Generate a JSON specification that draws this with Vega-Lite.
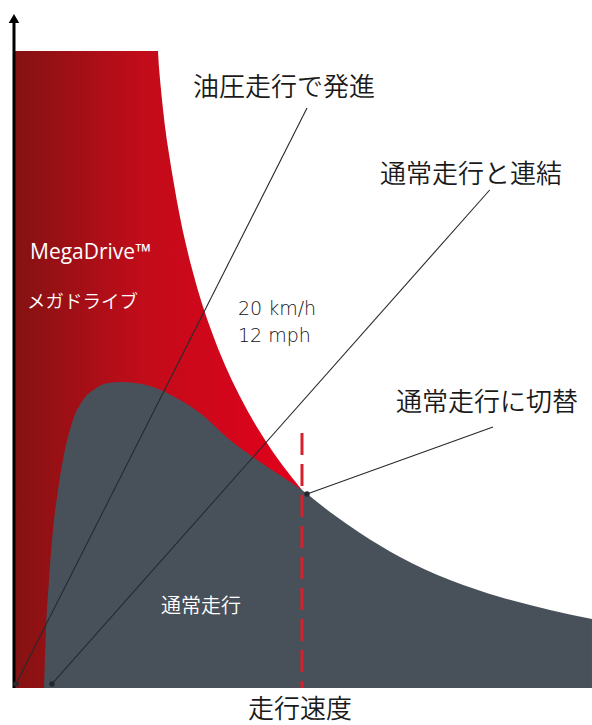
{
  "$schema": "https://vega.github.io/schema/vega-lite/v6.json",
  "width": 592,
  "height": 725,
  "autosize": {"type": "fit", "contains": "padding"},
  "padding": 0,
  "background": "white",
  "config": {"view": {"stroke": null}, "text": {"font": "Noto Sans CJK JP"}},
  "datasets": {
    "hydraulic": [
      {"speed": 0, "force": 100.0},
      {"speed": 9.965, "force": 100.0},
      {"speed": 10.02, "force": 97.8},
      {"speed": 10.11, "force": 95.45},
      {"speed": 10.21, "force": 93.1},
      {"speed": 10.32, "force": 90.74},
      {"speed": 10.44, "force": 88.4},
      {"speed": 10.58, "force": 86.03},
      {"speed": 10.74, "force": 83.7},
      {"speed": 10.91, "force": 81.32},
      {"speed": 11.09, "force": 78.96},
      {"speed": 11.27, "force": 76.61},
      {"speed": 11.47, "force": 74.25},
      {"speed": 11.68, "force": 71.9},
      {"speed": 11.92, "force": 69.55},
      {"speed": 12.17, "force": 67.19},
      {"speed": 12.45, "force": 64.84},
      {"speed": 12.74, "force": 62.48},
      {"speed": 13.06, "force": 60.13},
      {"speed": 13.41, "force": 57.77},
      {"speed": 13.79, "force": 55.42},
      {"speed": 14.19, "force": 53.06},
      {"speed": 14.63, "force": 50.71},
      {"speed": 15.105, "force": 48.35},
      {"speed": 15.62, "force": 46.0},
      {"speed": 16.172, "force": 43.64},
      {"speed": 16.77, "force": 41.29},
      {"speed": 17.423, "force": 38.93},
      {"speed": 18.0, "force": 36.97},
      {"speed": 18.627, "force": 35.01},
      {"speed": 19.3, "force": 33.05},
      {"speed": 20.0, "force": 31.08}
    ],
    "normal": [
      {"speed": 2.021, "force": 0},
      {"speed": 2.16, "force": 9.1},
      {"speed": 2.37, "force": 16.95},
      {"speed": 2.648, "force": 24.8},
      {"speed": 2.997, "force": 31.08},
      {"speed": 3.345, "force": 35.79},
      {"speed": 4.042, "force": 42.07},
      {"speed": 4.739, "force": 45.21},
      {"speed": 5.575, "force": 46.94},
      {"speed": 6.481, "force": 47.88},
      {"speed": 7.456, "force": 48.04},
      {"speed": 8.362, "force": 47.88},
      {"speed": 9.408, "force": 47.41},
      {"speed": 10.453, "force": 46.47},
      {"speed": 11.498, "force": 45.21},
      {"speed": 12.892, "force": 43.17},
      {"speed": 14.983, "force": 38.93},
      {"speed": 17.073, "force": 35.48},
      {"speed": 20.0, "force": 31.08},
      {"speed": 21.951, "force": 27.63},
      {"speed": 24.042, "force": 24.33},
      {"speed": 26.829, "force": 20.57},
      {"speed": 30.314, "force": 16.95},
      {"speed": 33.798, "force": 14.29},
      {"speed": 37.282, "force": 12.24},
      {"speed": 40.209, "force": 10.83}
    ],
    "switch": [{"speed": 20.0, "top": 40.03, "bottom": 0}],
    "axisline": [{"speed": -0.07, "top": 104.55, "bottom": 0}],
    "arrow": [{"speed": -0.07, "force": 105.1}],
    "leaders": [
      {"label": "油圧走行で発進", "speed": 20.35, "force": 91.05, "speed2": 0.07, "force2": 0.63},
      {"label": "通常走行と連結", "speed": 33.08, "force": 78.18, "speed2": 2.578, "force2": 0.63},
      {"label": "通常走行に切替", "speed": 33.31, "force": 40.97, "speed2": 20.35, "force2": 30.46}
    ],
    "callouts": [
      {"label": "油圧走行で発進", "speed": 18.75, "force": 94.19},
      {"label": "通常走行と連結", "speed": 31.78, "force": 80.53},
      {"label": "通常走行に切替", "speed": 32.89, "force": 44.75},
      {"label": "走行速度", "speed": 19.86, "force": -3.45}
    ],
    "megaLatin": [{"label": "MegaDrive™", "speed": 1.045, "force": 68.29}],
    "megaKana": [{"label": "メガドライブ", "speed": 0.836, "force": 60.6}],
    "whiteCenter": [{"label": "通常走行", "speed": 12.96, "force": 12.72}],
    "speedLabel": [
      {"label": "20 km/h", "speed": 15.54, "force": 59.5},
      {"label": "12 mph", "speed": 15.54, "force": 55.26}
    ]
  },
  "layer": [
    {
      "data": {"name": "hydraulic"},
      "mark": {
        "type": "area",
        "interpolate": "linear",
        "color": {
          "gradient": "linear",
          "x1": 0, "x2": 1, "y1": 0, "y2": 0,
          "stops": [
            {"offset": 0, "color": "#841212"},
            {"offset": 0.45, "color": "#c20c1a"},
            {"offset": 1, "color": "#e2001b"}
          ]
        }
      },
      "encoding": {
        "x": {"field": "speed", "type": "quantitative", "axis": null, "scale": {"domain": [-1.045, 40.21], "nice": false, "zero": false}},
        "y": {"field": "force", "type": "quantitative", "axis": null, "scale": {"domain": [-5.81, 108.01], "nice": false, "zero": false}},
        "y2": {"datum": 0}
      }
    },
    {
      "data": {"name": "normal"},
      "mark": {"type": "area", "interpolate": "monotone", "color": "#48515a"},
      "encoding": {
        "x": {"field": "speed", "type": "quantitative"},
        "y": {"field": "force", "type": "quantitative"},
        "y2": {"datum": 0}
      }
    },
    {
      "data": {"name": "switch"},
      "mark": {"type": "rule", "color": "#d6202e", "strokeWidth": 3, "strokeDash": [22, 9]},
      "encoding": {
        "x": {"field": "speed", "type": "quantitative"},
        "y": {"field": "top", "type": "quantitative"},
        "y2": {"field": "bottom"}
      }
    },
    {
      "data": {"name": "axisline"},
      "mark": {"type": "rule", "color": "#000000", "strokeWidth": 3},
      "encoding": {
        "x": {"field": "speed", "type": "quantitative"},
        "y": {"field": "top", "type": "quantitative"},
        "y2": {"field": "bottom"}
      }
    },
    {
      "data": {"name": "arrow"},
      "mark": {"type": "point", "shape": "triangle-up", "filled": true, "color": "#000000", "size": 110, "opacity": 1},
      "encoding": {
        "x": {"field": "speed", "type": "quantitative"},
        "y": {"field": "force", "type": "quantitative"}
      }
    },
    {
      "data": {"name": "leaders"},
      "mark": {"type": "rule", "color": "#262a2e", "strokeWidth": 1.1},
      "encoding": {
        "x": {"field": "speed", "type": "quantitative"},
        "y": {"field": "force", "type": "quantitative"},
        "x2": {"field": "speed2"},
        "y2": {"field": "force2"}
      }
    },
    {
      "data": {"name": "leaders"},
      "mark": {"type": "point", "filled": true, "shape": "circle", "color": "#24282c", "size": 30, "opacity": 1},
      "encoding": {
        "x": {"field": "speed2", "type": "quantitative"},
        "y": {"field": "force2", "type": "quantitative"}
      }
    },
    {
      "data": {"name": "callouts"},
      "mark": {"type": "text", "fontSize": 26, "fontWeight": 350, "color": "#1a1a1a", "align": "center", "baseline": "middle"},
      "encoding": {
        "x": {"field": "speed", "type": "quantitative"},
        "y": {"field": "force", "type": "quantitative"},
        "text": {"field": "label"}
      }
    },
    {
      "data": {"name": "megaLatin"},
      "mark": {"type": "text", "font": "Open Sans", "fontSize": 21, "color": "#ffffff", "align": "left", "baseline": "middle"},
      "encoding": {
        "x": {"field": "speed", "type": "quantitative"},
        "y": {"field": "force", "type": "quantitative"},
        "text": {"field": "label"}
      }
    },
    {
      "data": {"name": "megaKana"},
      "mark": {"type": "text", "fontSize": 18.5, "fontWeight": 350, "color": "#ffffff", "align": "left", "baseline": "middle"},
      "encoding": {
        "x": {"field": "speed", "type": "quantitative"},
        "y": {"field": "force", "type": "quantitative"},
        "text": {"field": "label"}
      }
    },
    {
      "data": {"name": "whiteCenter"},
      "mark": {"type": "text", "fontSize": 20, "fontWeight": 350, "color": "#ffffff", "align": "center", "baseline": "middle"},
      "encoding": {
        "x": {"field": "speed", "type": "quantitative"},
        "y": {"field": "force", "type": "quantitative"},
        "text": {"field": "label"}
      }
    },
    {
      "data": {"name": "speedLabel"},
      "mark": {"type": "text", "font": "DejaVu Sans", "fontSize": 19, "fontWeight": 200, "color": "#111111", "align": "left", "baseline": "middle"},
      "encoding": {
        "x": {"field": "speed", "type": "quantitative"},
        "y": {"field": "force", "type": "quantitative"},
        "text": {"field": "label"}
      }
    }
  ]
}
